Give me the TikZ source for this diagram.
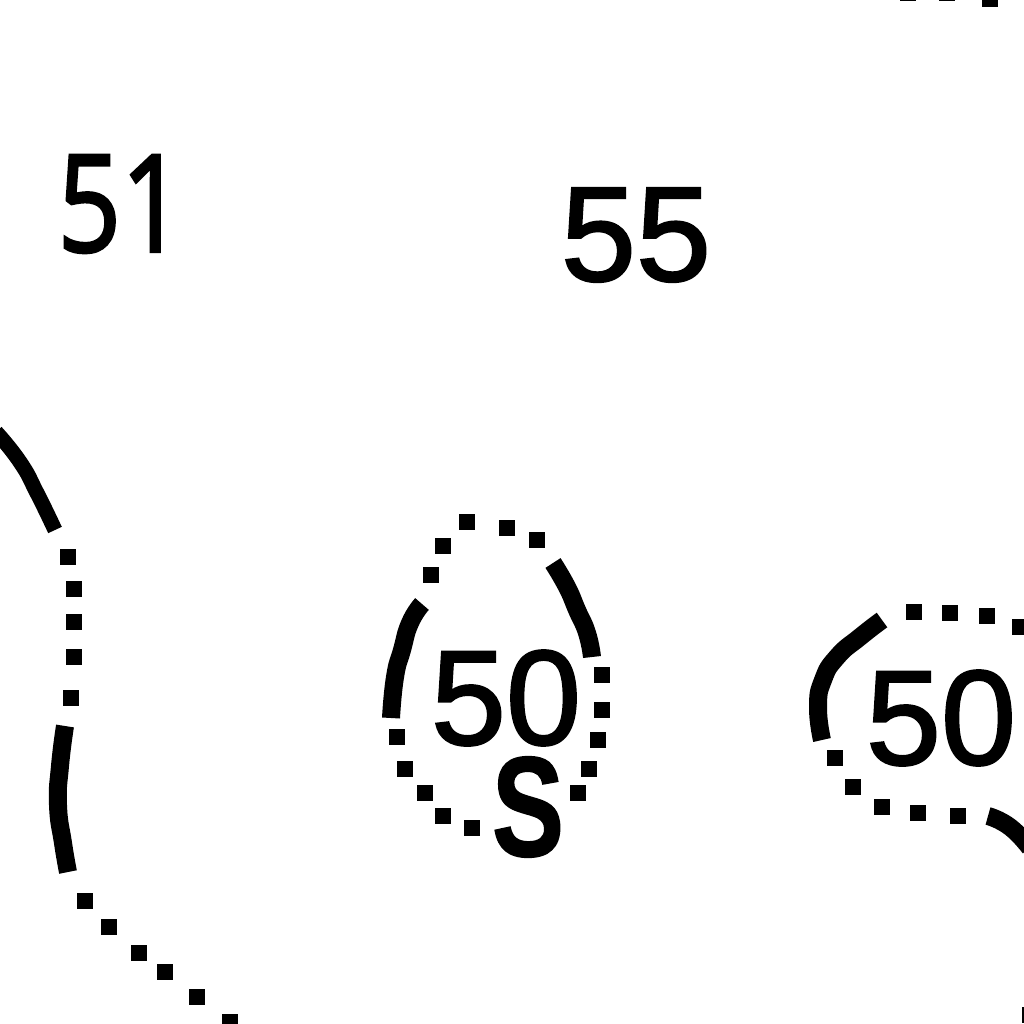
\documentclass[tikz,border=0pt]{standalone}
\usepackage{fontspec}
\setmainfont{Liberation Sans}
\newfontfamily\heavyfont[FakeBold=1.6]{Liberation Sans}
\newfontfamily\heavyopen[FakeBold=2.2]{Open Sans}
\newfontfamily\heavyS[FakeBold=1.2]{Liberation Sans Bold}
\tikzset{
  dotmark/.style={fill=black,draw=none,minimum size=16pt,inner sep=0pt,outer sep=0pt,rectangle},
  arcline/.style={draw=black,line width=18pt,line cap=butt,line join=round},
  label50/.style={inner sep=0pt,outer sep=0pt,font=\heavyfont\fontsize{135}{135}\selectfont},
  label51/.style={inner sep=0pt,outer sep=0pt,xscale=0.82,font=\heavyopen\fontsize{135}{135}\selectfont},
  labelS/.style={inner sep=0pt,outer sep=0pt,xscale=0.76,font=\heavyS\fontsize{142}{142}\selectfont}
}
\begin{document}
\begin{tikzpicture}[x=1pt,y=-1pt]
\useasboundingbox (0,0) rectangle (1024,1024);
\node[label51] (t51) at (121,204) {51};
\node[label50] (t55) at (636,235) {55};
\node[label50] (t50a) at (506,698) {50};
\node[labelS] (tS) at (528,807) {S};
\node[label50] (t50b) at (941,718) {50};
% dots
\foreach \p in {(467,522),(507,528),(537,540),(443,546),(431,575),
  (602,675),(602,710),(598,740),(589,769),(578,793),
  (397,737),(405,769),(425,793),(443,816),(472,828),
  (914,612),(950,613),(987,616),(1020,627),
  (835,758),(853,787),(882,807),(918,813),(958,816),
  (68,557),(74,589),(74,622),(74,657),(71,698),
  (85,901),(109,927),(139,953),(165,972),(197,997),(230,1022),
  (908,-7),(947,-7),(990,-1),(1030,1015)}
  \node[dotmark] at \p {};
% arcs
\draw[arcline] plot[smooth,tension=0.9] coordinates {(553,563)(567,587)(577,610)(587,633)(592,657)};
\draw[arcline] plot[smooth,tension=0.9] coordinates {(422,604)(410,623)(402,650)(395,677)(391,718)};
\draw[arcline] plot[smooth,tension=0.9] coordinates {(882,620)(860,637)(837,657)(823,680)(818,707)(822,740)};
\draw[arcline] plot[smooth,tension=0.9] coordinates {(988,816)(1010,827)(1030,848)};
\draw[arcline,line width=15pt] plot[smooth,tension=0.9] coordinates {(-4,432)(20,462)(37,493)(55,530)};
\draw[arcline] plot[smooth,tension=0.9] coordinates {(65,726)(60,766)(58,805)(63,843)(68,872)};
\end{tikzpicture}
\end{document}
